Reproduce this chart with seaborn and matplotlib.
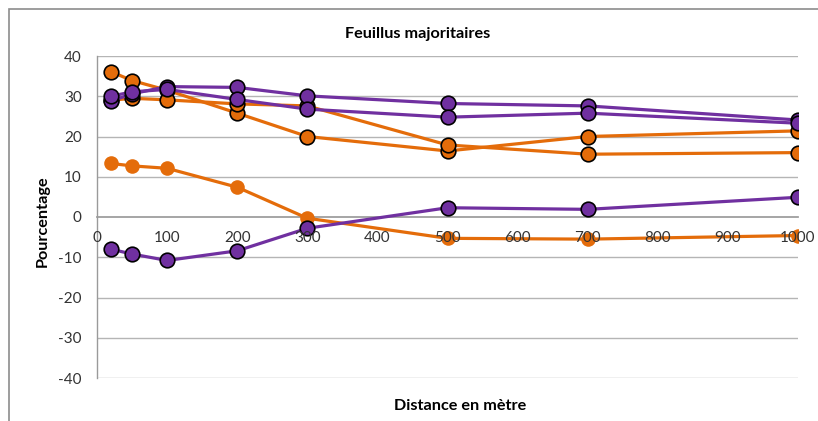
import matplotlib
matplotlib.use("Agg")
import matplotlib.pyplot as plt
import seaborn as sns
import pandas as pd
from matplotlib.patches import Rectangle

# ---- data ----
distances = [20, 50, 100, 200, 300, 500, 700, 1000]
orange_a = [36.1, 33.9, 31.5, 25.8, 20.0, 16.4, 20.0, 21.4]
orange_b = [29.0, 29.5, 29.1, 28.1, 27.6, 17.9, 15.6, 16.0]
orange_c = [13.3, 12.7, 12.1, 7.4, -0.3, -5.3, -5.5, -4.6]
purple_d = [28.8, 30.6, 32.4, 32.2, 30.1, 28.2, 27.6, 24.1]
purple_e = [30.0, 31.1, 31.7, 29.2, 26.8, 24.8, 25.8, 23.3]
purple_f = [-8.0, -9.2, -10.8, -8.4, -2.8, 2.3, 1.9, 4.9]
x_ticks = [0, 100, 200, 300, 400, 500, 600, 700, 800, 900, 1000]
y_ticks = [-40, -30, -20, -10, 0, 10, 20, 30, 40]
title = "Feuillus majoritaires"
x_label = "Distance en mètre"
y_label = "Pourcentage"

ORANGE = "#E46C0A"
PURPLE = "#7030A0"

series = [
    ("C", orange_c, ORANGE, ORANGE),
    ("A", orange_a, ORANGE, "black"),
    ("B", orange_b, ORANGE, "black"),
    ("F", purple_f, PURPLE, "black"),
    ("D", purple_d, PURPLE, "black"),
    ("E", purple_e, PURPLE, "black"),
]

sns.set_theme(style="white")
plt.rcParams["font.family"] = ["Lato", "DejaVu Sans"]

fig = plt.figure(figsize=(8.18, 4.21), dpi=100)
W, H = 818, 421
ax = fig.add_axes([97 / W, 1 - 378 / H, (798 - 97) / W, (378 - 56) / H])

for name, vals, col, edge in series:
    df = pd.DataFrame({"x": distances, "y": vals})
    sns.lineplot(data=df, x="x", y="y", ax=ax, color=col, linewidth=2.3,
                 marker="o", markersize=10.5, markeredgecolor=edge,
                 markeredgewidth=1.2 if edge == "black" else 0, zorder=2)

for yv in y_ticks:
    if yv != 0:
        ax.axhline(yv, color="#B5B5B5", linewidth=1.0, zorder=0.5)

ax.set_xlim(0, 1000)
ax.set_ylim(-40, 40)
ax.set_xticks(x_ticks)
ax.set_yticks(y_ticks)
ax.set_xticklabels([str(t) for t in x_ticks])
ax.set_yticklabels([str(t) for t in y_ticks])
ax.tick_params(axis="both", length=0, labelsize=11, labelcolor="#333333")
ax.tick_params(axis="x", pad=10)
ax.tick_params(axis="y", pad=11)

ax.spines["top"].set_visible(False)
ax.spines["right"].set_visible(False)
ax.spines["bottom"].set_position(("data", 0))
ax.spines["bottom"].set_color("#9A9A9A")
ax.spines["bottom"].set_zorder(0.6)
ax.spines["left"].set_color("#9A9A9A")
ax.spines["left"].set_linewidth(1.0)
ax.xaxis.set_zorder(5)
ax.yaxis.set_zorder(5)
ax.grid(False)
ax.set_xlabel("")
ax.set_ylabel("")

fig.text(418 / W, 1 - 34 / H, title, ha="center", va="center",
         fontsize=11.7, fontweight="bold", color="black")
fig.text(460 / W, 1 - 406 / H, x_label, ha="center", va="center",
         fontsize=11.7, fontweight="bold", color="black")
fig.text(43 / W, 1 - 221 / H, y_label, ha="center", va="center",
         rotation=90, fontsize=11.7, fontweight="bold", color="black")

fig.patches.append(Rectangle((8.5 / W, -0.1), 1.2, 1 - 9.5 / H + 0.1,
                             transform=fig.transFigure, fill=False,
                             edgecolor="#8C8C8C", linewidth=1.2))

fig.savefig("out.png", dpi=100)
